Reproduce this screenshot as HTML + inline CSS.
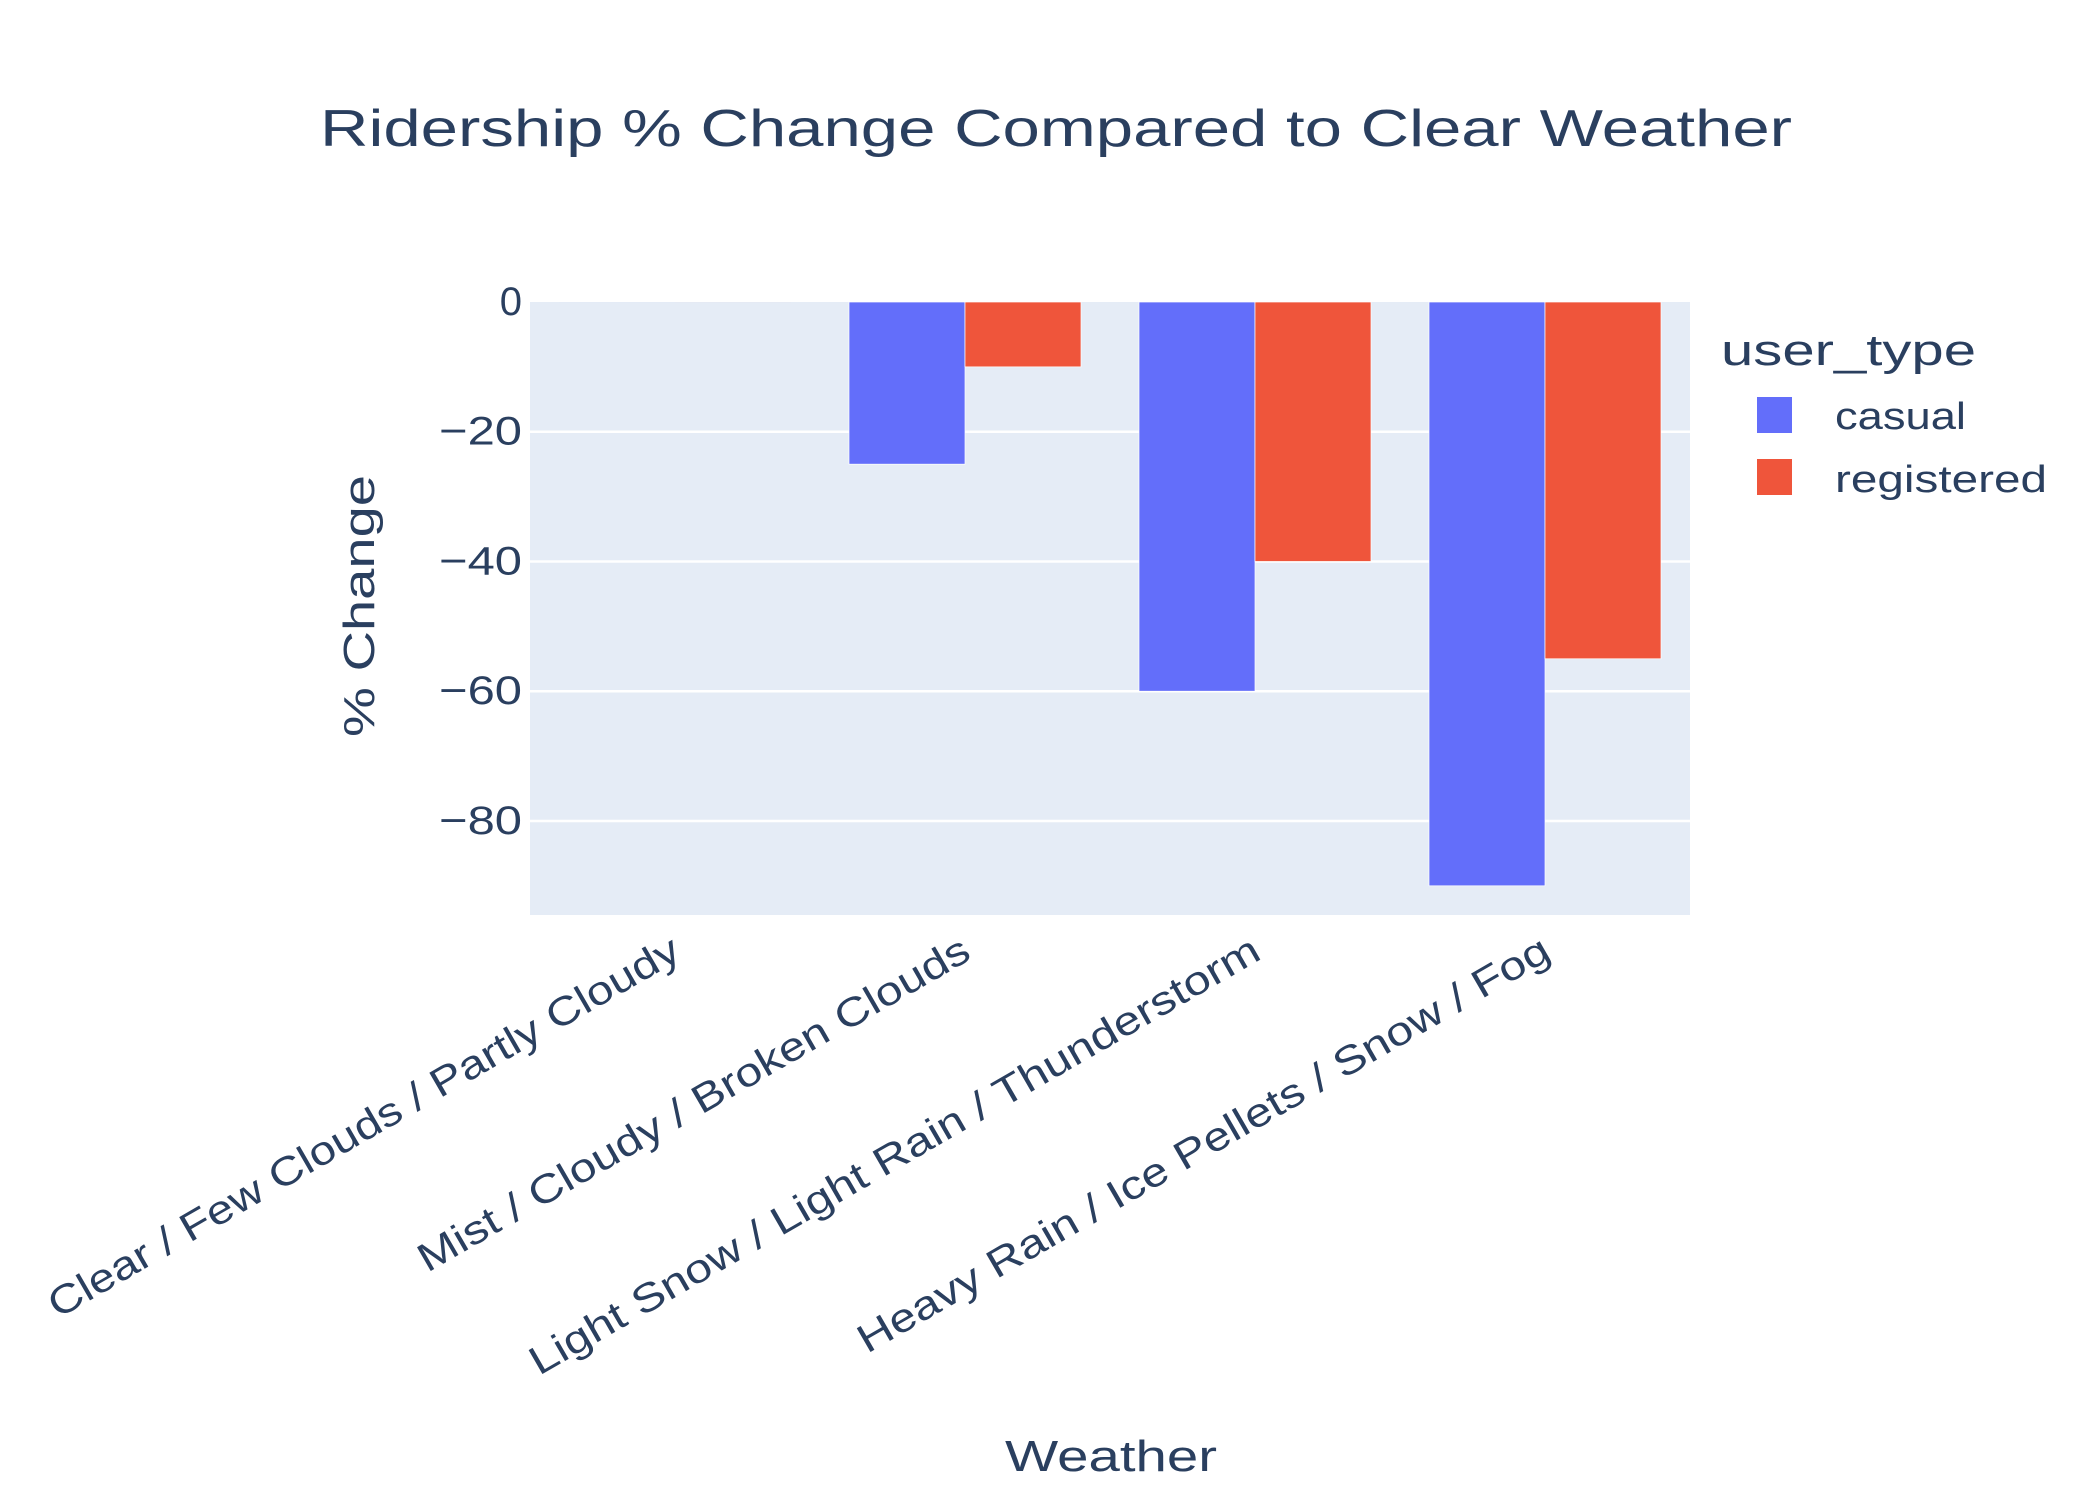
<!DOCTYPE html>
<html><head><meta charset="utf-8"><style>body{margin:0;background:#fff}svg{display:block}text{font-family:"Liberation Sans",sans-serif;fill:#2a3f5f}</style></head>
<body>
<svg id="chart" width="2100" height="1500" xmlns="http://www.w3.org/2000/svg">
<rect x="530" y="302" width="1160" height="613" fill="#e5ecf6"/>
<g id="grid"></g><g id="bars"></g><g id="yticks"></g><g id="xticks"></g>
<text x="1056" y="146" font-size="52" text-anchor="middle" textLength="1472" lengthAdjust="spacingAndGlyphs">Ridership % Change Compared to Clear Weather</text>
<text x="0" y="0" font-size="44" text-anchor="middle" textLength="262" lengthAdjust="spacingAndGlyphs" transform="translate(374,606) rotate(-90)">% Change</text>
<text x="1111" y="1471" font-size="44" text-anchor="middle" textLength="212" lengthAdjust="spacingAndGlyphs">Weather</text>
<g>
<text x="1721" y="365" font-size="44" textLength="255" lengthAdjust="spacingAndGlyphs">user_type</text>
<rect x="1757" y="397" width="35" height="36" fill="#636efa"/>
<text x="1835" y="429" font-size="38" textLength="131" lengthAdjust="spacingAndGlyphs">casual</text>
<rect x="1757" y="459" width="35" height="36" fill="#ef553b"/>
<text x="1835" y="492" font-size="38" textLength="212" lengthAdjust="spacingAndGlyphs">registered</text>
</g>
</svg>
<script>
const categories=["Clear / Few Clouds / Partly Cloudy","Mist / Cloudy / Broken Clouds","Light Snow / Light Rain / Thunderstorm","Heavy Rain / Ice Pellets / Snow / Fog"];
const casual=[0,-25,-60,-90];
const registered=[0,-10,-40,-55];
const yTicks=[0,-20,-40,-60,-80];
const yTickLabels=["0","\u221220","\u221240","\u221260","\u221280"];
const labelLens=[722,630,836,792];
const NS="http://www.w3.org/2000/svg";
const X0=530,X1=1690,Y0=302,Y1=915,YMIN=-94.5,YMAX=0;
function y(v){return Y0+(YMAX-v)/(YMAX-YMIN)*(Y1-Y0);}
const band=(X1-X0)/categories.length;
function xc(i){return X0+band*(i+0.5);}
function mk(t,a,p){const e=document.createElementNS(NS,t);for(const k in a)e.setAttribute(k,a[k]);p.appendChild(e);return e;}
const grid=document.getElementById('grid'),bars=document.getElementById('bars'),yt=document.getElementById('yticks'),xt=document.getElementById('xticks');
yTicks.forEach((v,i)=>{
 if(v!==0){const l=mk('line',{x1:X0,x2:X1,y1:y(v),y2:y(v),stroke:'#fff','stroke-width':2.5},grid);
 
 }
 const a={x:522,y:y(v)+13,'font-size':40,'text-anchor':'end'};
 if(v!==0){a.textLength=83;a.lengthAdjust='spacingAndGlyphs';}
 const t=mk('text',a,yt);t.textContent=yTickLabels[i];
 
 
});
const bw=band*0.4;
[[casual,'#636efa','casual',-1],[registered,'#ef553b','registered',0]].forEach(([vals,col,nm,off])=>{
 vals.forEach((v,i)=>{
  const x=xc(i)+off*bw;const top=Math.min(y(v),y(0)),h=Math.abs(y(v)-y(0));
  const r=mk('rect',{x:x,y:top,width:bw,height:Math.max(h,0.01),fill:col,stroke:'#fff','stroke-width':h>0?0.7:0},bars);
  
  
 });
});
categories.forEach((c,i)=>{
 const t=mk('text',{x:0,y:0,'font-size':40,'text-anchor':'end',textLength:labelLens[i],lengthAdjust:'spacingAndGlyphs',transform:`translate(${xc(i)+8},${958}) rotate(-30)`},xt);t.textContent=c;
 
 
});
</script>
</body></html>
